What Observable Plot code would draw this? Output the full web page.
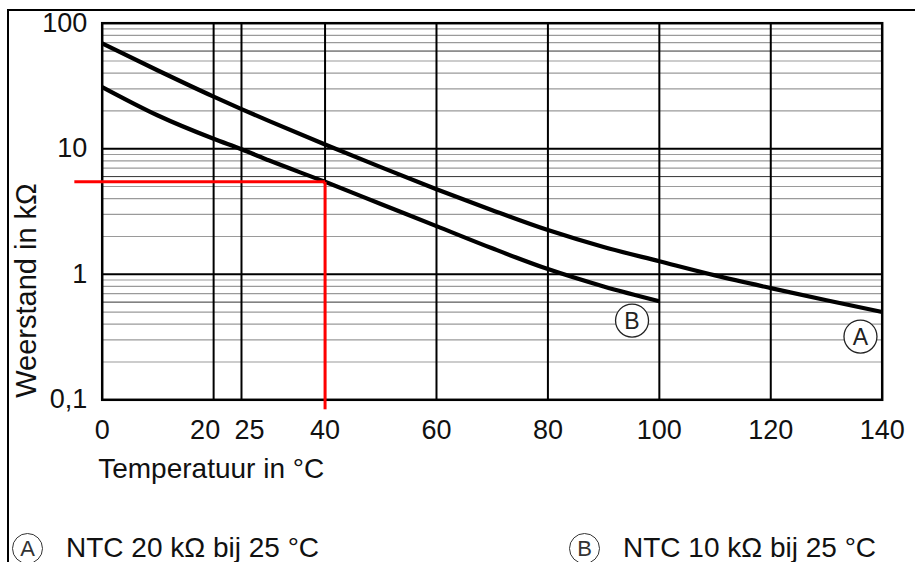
<!DOCTYPE html>
<html>
<head>
<meta charset="utf-8">
<script src="https://cdn.jsdelivr.net/npm/d3@7"></script>
<script src="https://cdn.jsdelivr.net/npm/@observablehq/plot@0.6"></script>
<style>
  body { margin: 0; background: #fff; }
  #wrap { position: relative; width: 915px; height: 562px; overflow: hidden; background: #fff;
          font-family: "Liberation Sans", Arial, Helvetica, sans-serif; color: #111; }
  #chart { position: absolute; left: 0; top: 0; }
  #frame { position: absolute; left: 7px; top: 9px; width: 1000px; height: 1000px;
           border: 2px solid #000; box-sizing: border-box; pointer-events: none; }
  .lg-circle { position: absolute; top: 533px; width: 31px; height: 31px; border: 1.3px solid #333;
               border-radius: 50%; box-sizing: border-box; display: flex; align-items: center;
               justify-content: center; font-size: 22px; line-height: 22px; color: #333; }
  .lg-text { position: absolute; top: 534px; font-size: 28px; line-height: 28px; white-space: nowrap; }
</style>
</head>
<body>
<div id="wrap">
  <div id="chart"></div>
  <div id="legend"></div>
  <div id="frame"></div>
</div>
<script>
// ---- data ----
const tempsA  = [0, 10, 20, 25, 30, 40, 50, 60, 70, 80, 90, 100, 110, 120, 130, 140];
const valuesA = [69, 42, 26.0, 20.7, 16.6, 10.8, 7.13, 4.76, 3.24, 2.25, 1.65, 1.27, 0.98, 0.776, 0.621, 0.5];
const tempsB  = [0, 10, 20, 25, 30, 40, 50, 60, 70, 80, 90, 100];
const valuesB = [31, 18.4, 12.0, 9.9, 8.05, 5.45, 3.63, 2.42, 1.61, 1.10, 0.80, 0.61];

const xTicks = [0, 20, 25, 40, 60, 80, 100, 120, 140];
const yTicks = [0.1, 1, 10, 100];
const yTickLabels = ["0,1", "1", "10", "100"];
const verticalGrid = [20, 25, 40, 60, 80, 100, 120];
const majorGrid = [1, 10];
const minorGrid = [0.2, 0.3, 0.4, 0.5, 0.7, 0.8, 0.9, 2, 3, 4, 5, 7, 8, 9, 20, 30, 40, 50, 70, 80, 90];
const darkMinorGrid = [0.6, 6, 60];

// red reading guide (B at 40 °C)
const guideH = [{t: -5, r: 5.45}, {t: 40, r: 5.45}];
const guideV = [{t: 40, r: 5.45}, {t: 40, r: 0.084}];

// curve labels inside the plot
const curveLabels = [{t: 95.1, r: 0.428, k: "B"}, {t: 136.1, r: 0.319, k: "A"}];

const xLabel = "Temperatuur in °C";
const yLabel = "Weerstand in kΩ";
const legendKeys = ["A", "B"];
const legendTexts = ["NTC 20 kΩ bij 25 °C", "NTC 10 kΩ bij 25 °C"];

const dataA = tempsA.map((t, i) => ({t, r: valuesA[i]}));
const dataB = tempsB.map((t, i) => ({t, r: valuesB[i]}));

const font = '"Liberation Sans", Arial, Helvetica, sans-serif';
const ML = 101.7, MT = 22.7, MR = 33.3, MB = 162.7;

const chart = Plot.plot({
  width: 915,
  height: 562,
  marginLeft: ML, marginTop: MT, marginRight: MR, marginBottom: MB,
  style: {fontFamily: font, background: "transparent", color: "#111", overflow: "visible"},
  x: {domain: [0, 140], axis: null},
  y: {type: "log", domain: [0.1, 100], axis: null},
  marks: [
    Plot.ruleY(minorGrid, {stroke: "#9a9a9a", strokeWidth: 1.2}),
    Plot.ruleY(darkMinorGrid, {stroke: "#333", strokeWidth: 1}),
    Plot.ruleY(majorGrid, {stroke: "#000", strokeWidth: 2}),
    Plot.ruleX(verticalGrid, {stroke: "#000", strokeWidth: 2}),
    Plot.frame({stroke: "#000", strokeWidth: 2.5}),
    Plot.line(dataA, {x: "t", y: "r", stroke: "#000", strokeWidth: 4.2, curve: "monotone-x", strokeLinecap: "butt"}),
    Plot.line(dataB, {x: "t", y: "r", stroke: "#000", strokeWidth: 4.2, curve: "monotone-x", strokeLinecap: "butt"}),
    Plot.line(guideH, {x: "t", y: "r", stroke: "#ff0000", strokeWidth: 3, strokeLinecap: "butt"}),
    Plot.line(guideV, {x: "t", y: "r", stroke: "#ff0000", strokeWidth: 3, strokeLinecap: "butt"}),
    // curve labels
    Plot.dot(curveLabels, {x: "t", y: "r", r: 16.5, stroke: "#222", strokeWidth: 1.3, fill: "#fff"}),
    Plot.text(curveLabels, {x: "t", y: "r", text: "k", fontSize: 23, fill: "#222", lineAnchor: "middle", dy: 1}),
    // y tick labels
    Plot.text(yTicks, {y: d => d, text: (d, i) => yTickLabels[i], frameAnchor: "left", textAnchor: "end",
                       lineAnchor: "middle", dx: -15, fontSize: 27}),
    // x tick labels
    Plot.text(xTicks.filter(d => d !== 20 && d !== 25), {x: d => d, frameAnchor: "bottom", lineAnchor: "middle",
                       dy: 31, fontSize: 27}),
    Plot.text(xTicks.filter(d => d === 20), {x: d => d, frameAnchor: "bottom", lineAnchor: "middle",
                       dy: 31, dx: -8.5, fontSize: 27}),
    Plot.text(xTicks.filter(d => d === 25), {x: d => d, frameAnchor: "bottom", lineAnchor: "middle",
                       dy: 31, dx: 8, fontSize: 27}),
    // axis titles
    Plot.text([xLabel], {text: d => d, frameAnchor: "bottom-left", textAnchor: "start", lineAnchor: "bottom",
                       dx: -4, dy: 77.7, fontSize: 28}),
    Plot.text([yLabel], {text: d => d, frameAnchor: "left", textAnchor: "middle", lineAnchor: "middle",
                       rotate: -90, dx: -75.7, dy: 79, fontSize: 29})
  ]
});
document.getElementById("chart").appendChild(chart);

// legend below the chart (HTML)
const legendPos = [{c: 12, t: 66}, {c: 569, t: 623}];
const legend = document.getElementById("legend");
legendKeys.forEach((k, i) => {
  const c = document.createElement("div");
  c.className = "lg-circle";
  c.style.left = legendPos[i].c + "px";
  c.textContent = k;
  legend.appendChild(c);
  const t = document.createElement("div");
  t.className = "lg-text";
  t.style.left = legendPos[i].t + "px";
  t.textContent = legendTexts[i];
  legend.appendChild(t);
});
</script>
</body>
</html>
